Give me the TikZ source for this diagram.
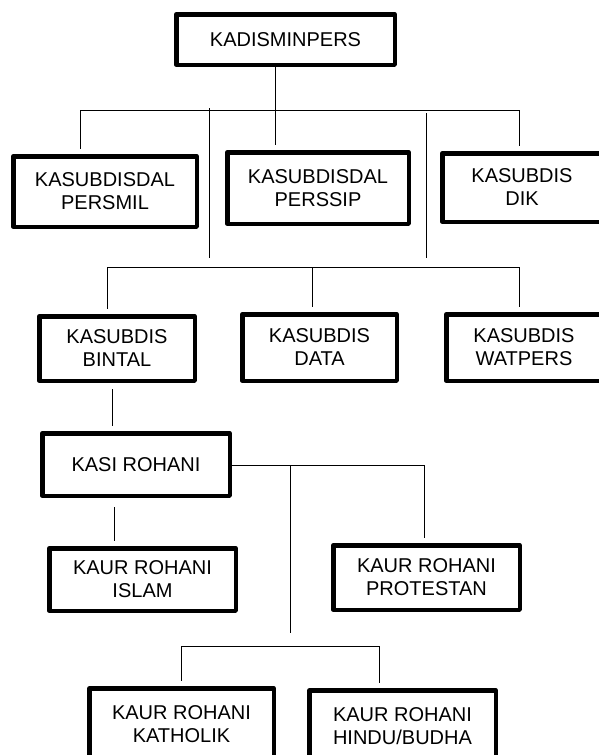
\documentclass[tikz,border=0pt]{standalone}
\usepackage{fontspec}
\setmainfont{Liberation Sans}

\begin{document}
\begin{tikzpicture}[x=1pt, y=-1pt,
    unit/.style 2 args={draw, line width=4.5pt, line join=round, fill=white,
        inner sep=0pt, align=center, minimum width=#1pt, minimum height=#2pt,
        font=\fontsize{20}{23}\selectfont},
    link/.style={line width=1pt},
    drop/.style={link, shorten >=5pt}
]
\useasboundingbox (0,0) rectangle (599,755);

% Top
\node[unit={218.5}{50.5}] (kadis) at (285.5,39.5) {KADISMINPERS};

% Row 1
\node[unit={183.5}{70.5}] (persmil) at (105,191.5) {KASUBDISDAL\\PERSMIL};
\node[unit={181.5}{71.5}] (perssip) at (318,188) {KASUBDISDAL\\PERSSIP};
\node[unit={159.5}{68.5}] (dik) at (522,187.5) {KASUBDIS\\DIK};

% Row 2
\node[unit={155.5}{64.5}] (bintal) at (117,348.5) {KASUBDIS\\BINTAL};
\node[unit={154.5}{66.5}] (data) at (319.5,347.5) {KASUBDIS\\DATA};
\node[unit={155.5}{66.5}] (watpers) at (524,347.5) {KASUBDIS\\WATPERS};

% Rohani
\node[unit={187.5}{62.5}] (kasi) at (136,464.5) {KASI ROHANI};
\node[unit={186.5}{62.5}] (islam) at (142.5,579.5) {KAUR ROHANI\\ISLAM};
\node[unit={186.5}{64.5}] (protestan) at (426.5,577.5) {KAUR ROHANI\\PROTESTAN};
\node[unit={184.5}{71}] (katholik) at (181.5,724) {KAUR ROHANI\\KATHOLIK};
\node[unit={186.5}{71}] (hindu) at (402.5,726) {KAUR ROHANI\\HINDU/BUDHA};

% Bus under KADISMINPERS
\coordinate (busAl) at (80,110);
\coordinate (busAm) at (275,110);
\coordinate (busAr) at (519,110);
\draw[link] (kadis.south -| busAm) -- (busAm);
\draw[link] (busAl) -- (busAr);
\draw[drop] (busAl) -- (busAl |- persmil.north);
\draw[drop] (busAm) -- (busAm |- perssip.north);
\draw[drop] (busAr) -- (busAr |- dik.north);

% Loose verticals
\coordinate (stubLa) at (209,108);
\coordinate (stubLb) at (209,258);
\coordinate (stubRa) at (426,113);
\coordinate (stubRb) at (426,258);
\draw[link] (stubLa) -- (stubLb);
\draw[link] (stubRa) -- (stubRb);

% Bus over row 2
\coordinate (busBl) at (107,267);
\coordinate (busBm) at (312,267);
\coordinate (busBr) at (519,267);
\draw[link] (busBl) -- (busBr);
\draw[drop] (busBl) -- (busBl |- bintal.north);
\draw[drop] (busBm) -- (busBm |- data.north);
\draw[drop] (busBr) -- (busBr |- watpers.north);

% Rohani lines
\coordinate (bintalx) at (112,0);
\draw[link, shorten <=6pt, shorten >=5pt] (bintal.south -| bintalx) -- (kasi.north -| bintalx);
\coordinate (islamx) at (114,0);
\draw[link, shorten <=9pt, shorten >=5pt] (kasi.south -| islamx) -- (islam.north -| islamx);
\coordinate (busCm) at (290,465);
\coordinate (busCr) at (424,465);
\coordinate (busCe) at (290,633);
\draw[link] (kasi.east |- busCr) -- (busCr);
\draw[drop] (busCr) -- (busCr |- protestan.north);
\draw[link] (busCm) -- (busCe);

% Bus over bottom row
\coordinate (busDl) at (181,646);
\coordinate (busDr) at (379,646);
\draw[link] (busDl) -- (busDr);
\draw[drop] (busDl) -- (busDl |- katholik.north);
\draw[drop] (busDr) -- (busDr |- hindu.north);

\end{tikzpicture}
\end{document}
